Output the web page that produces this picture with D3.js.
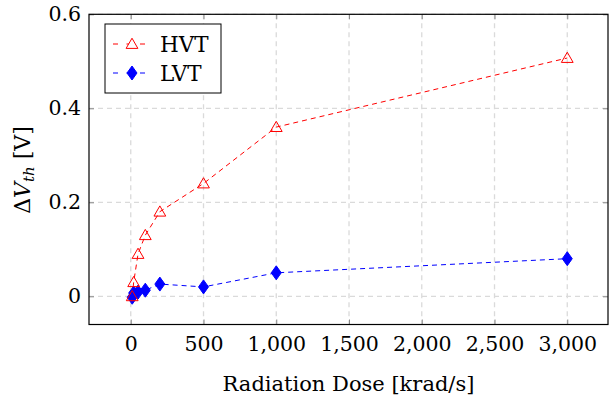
<!DOCTYPE html>
<html><head><meta charset="utf-8">
<script src="https://cdn.jsdelivr.net/npm/d3@7"></script>
<style>
body{margin:0;background:#fff;}
text{font-family:"DejaVu Serif",serif;}
</style></head>
<body><svg id="c" width="609" height="401"></svg>
<script>
const hvtX = [10, 20, 50, 100, 200, 500, 1000, 3000];
const hvtY = [0, 0.03, 0.09, 0.13, 0.18, 0.24, 0.36, 0.507];
const lvtX = [10, 20, 50, 100, 200, 500, 1000, 3000];
const lvtY = [-0.002, 0.007, 0.009, 0.013, 0.026, 0.02, 0.05, 0.08];
const xTicks = [0, 500, 1000, 1500, 2000, 2500, 3000];
const yTicks = [0, 0.2, 0.4, 0.6];
const seriesNames = ["HVT", "LVT"];

const FONT = "DejaVu Serif";
const svg = d3.select("#c");
const L = 89, R = 608, T = 14.3, B = 324.5;
const x = d3.scaleLinear().domain([-287, 3280]).range([L, R]);
const y = d3.scaleLinear().domain([-0.06, 0.6]).range([B, T]);

// grid
const g = svg.append("g");
g.selectAll(".gx").data(xTicks).join("line")
  .attr("x1", d => x(d)).attr("x2", d => x(d)).attr("y1", T).attr("y2", B)
  .attr("stroke", "#dadada").attr("stroke-width", 1.3).attr("stroke-dasharray", "5,4");
g.selectAll(".gy").data(yTicks).join("line")
  .attr("y1", d => y(d)).attr("y2", d => y(d)).attr("x1", L).attr("x2", R)
  .attr("stroke", "#dadada").attr("stroke-width", 1.3).attr("stroke-dasharray", "5,4");

// axes (ticks inside, on all sides)
const fmtX = d3.format(",");
const fmtY = d => d === 0 ? "0" : d3.format(".1f")(d);
const axB = d3.axisBottom(x).tickValues(xTicks).tickSize(-5).tickPadding(12).tickFormat(fmtX);
const axL = d3.axisLeft(y).tickValues(yTicks).tickSize(-5).tickPadding(8).tickFormat(fmtY);
const axT = d3.axisTop(x).tickValues(xTicks).tickSize(-5).tickFormat("");
const axR = d3.axisRight(y).tickValues(yTicks).tickSize(-5).tickFormat("");
function style(sel){
  sel.attr("font-family", FONT);
  sel.select(".domain").remove();
  sel.selectAll(".tick line").attr("stroke", "#888").attr("stroke-width", 1);
  sel.selectAll(".tick text").attr("font-family", FONT).attr("font-size", 20.5).attr("fill", "#000");
}
svg.append("g").attr("transform", `translate(0,${B})`).call(axB).call(style);
svg.append("g").attr("transform", `translate(${L},0)`).call(axL).call(style);
svg.append("g").attr("transform", `translate(0,${T})`).call(axT).call(style);
svg.append("g").attr("transform", `translate(${R},0)`).call(axR).call(style);

svg.append("rect").attr("x", L).attr("y", T).attr("width", R - L).attr("height", B - T)
  .attr("fill", "none").attr("stroke", "#000").attr("stroke-width", 1.2);

const line = d3.line().x(d => x(d[0])).y(d => y(d[1]));
const hvt = hvtX.map((v, i) => [v, hvtY[i]]);
const lvt = lvtX.map((v, i) => [v, lvtY[i]]);

svg.append("path").datum(hvt).attr("d", line).attr("fill", "none")
  .attr("stroke", "#f00").attr("stroke-width", 1).attr("stroke-dasharray", "5,4");
svg.append("path").datum(lvt).attr("d", line).attr("fill", "none")
  .attr("stroke", "#00f").attr("stroke-width", 1).attr("stroke-dasharray", "5,4");

const tri = d3.symbol().type(d3.symbolTriangle).size(60);
const dia = "M0,-7L5,0L0,7L-5,0Z";

svg.append("g").selectAll("path").data(lvt).join("path")
  .attr("transform", d => `translate(${x(d[0])},${y(d[1])})`)
  .attr("d", dia).attr("fill", "#00f").attr("stroke", "#00f");
svg.append("g").selectAll("path").data(hvt).join("path")
  .attr("transform", d => `translate(${x(d[0])},${y(d[1]) + 1})`)
  .attr("d", tri).attr("fill", "none").attr("stroke", "#f00").attr("stroke-width", 1);

// legend
const lg = svg.append("g");
lg.append("rect").attr("x", 105).attr("y", 24).attr("width", 116).attr("height", 69)
  .attr("fill", "#fff").attr("stroke", "#000").attr("stroke-width", 1);
const rows = [{c: "#f00", n: seriesNames[0], y: 44}, {c: "#00f", n: seriesNames[1], y: 73}];
rows.forEach((r, i) => {
  lg.append("line").attr("x1", 113).attr("x2", 151).attr("y1", r.y).attr("y2", r.y)
    .attr("stroke", r.c).attr("stroke-width", 1).attr("stroke-dasharray", "5,8.5");
  if (i === 0) lg.append("path").attr("transform", `translate(132,${r.y + 1})`).attr("d", tri)
    .attr("fill", "#fff").attr("stroke", r.c);
  else lg.append("path").attr("transform", `translate(132,${r.y})`).attr("d", dia)
    .attr("fill", r.c).attr("stroke", r.c);
  lg.append("text").attr("x", 160).attr("y", r.y + 8).attr("font-size", 21.5).text(r.n);
});

// axis labels
svg.append("text").attr("x", (L + R) / 2).attr("y", 391).attr("text-anchor", "middle")
  .attr("font-size", 21).text("Radiation Dose [krad/s]");
const yl = svg.append("text").attr("transform", "translate(30,170) rotate(-90)")
  .attr("text-anchor", "middle").attr("font-size", 22);
yl.append("tspan").text("Δ");
yl.append("tspan").attr("font-style", "italic").text("V");
yl.append("tspan").attr("font-style", "italic").attr("font-size", 15).attr("dy", 4).text("th");
yl.append("tspan").attr("dy", -4).text(" [V]");
</script></body></html>
